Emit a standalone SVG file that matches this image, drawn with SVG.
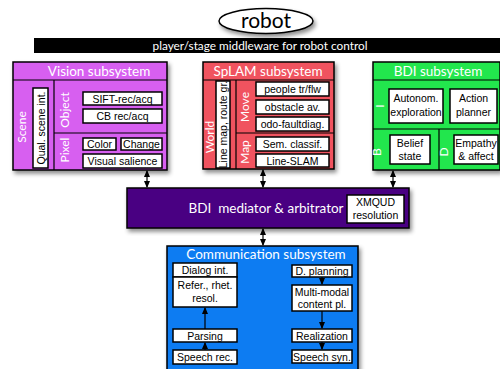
<svg xmlns="http://www.w3.org/2000/svg" width="500" height="369" viewBox="0 0 500 369">
<defs>
<filter id="sh" x="-10%" y="-10%" width="130%" height="130%">
<feDropShadow dx="2" dy="3" stdDeviation="2" flood-color="#000" flood-opacity="0.45"/>
</filter>
<marker id="ah" viewBox="0 0 8 8" refX="7" refY="4" markerWidth="6" markerHeight="6" orient="auto-start-reverse">
<path d="M0,0.5 L8,4 L0,7.5 z" fill="#000"/>
</marker>
<style>
.hd{font-family:Lato,"Open Sans",sans-serif;fill:#fff;text-anchor:middle}
.lb{font-family:Lato,"Open Sans",sans-serif;fill:#fff;font-size:12px;text-anchor:middle}
.bx{fill:#fff;stroke:#000;stroke-width:1.5}
.tx{font-family:"Liberation Sans",Arial,sans-serif;font-size:10.5px;fill:#000;text-anchor:middle}
.ln{stroke:#000;stroke-width:1.2;fill:none}
.ar{stroke:#000;stroke-width:1.2;fill:none;marker-end:url(#ah)}
.dar{stroke:#000;stroke-width:1.2;fill:none;marker-end:url(#ah);marker-start:url(#ah)}
</style>
</defs>
<rect width="500" height="369" fill="#fff"/>

<g id="robot">
<ellipse cx="266" cy="21" rx="47" ry="12.5" fill="#fff" stroke="#000" stroke-width="1.5" filter="url(#sh)"/>
<text x="266" y="28" font-family="Lato,'Open Sans',sans-serif" font-size="21" text-anchor="middle" fill="#000">robot</text>
</g>

<g id="middleware">
<rect x="34" y="38" width="466" height="15" fill="#000"/>
<text x="260" y="49.5" font-family="Lato,'Open Sans',sans-serif" font-size="11.8" text-anchor="middle" fill="#fff">player/stage middleware for robot control</text>
</g>

<g id="vision">
<rect x="13" y="62" width="154" height="108" fill="#d75ff0" stroke="#000" stroke-width="1.5" filter="url(#sh)"/>
<path class="ln" d="M13,80 H167 M54,80 V170 M54,133 H167"/>
<text class="hd" x="99" y="76" font-size="13.5">Vision subsystem</text>
<text class="lb" transform="translate(26,127) rotate(-90)">Scene</text>
<rect class="bx" x="33" y="88" width="15" height="80"/>
<text class="tx" transform="translate(44.5,128) rotate(-90)">Qual. scene int.</text>
<text class="lb" transform="translate(69,110) rotate(-90)">Object</text>
<text class="lb" transform="translate(69,150) rotate(-90)">Pixel</text>
<rect class="bx" x="83" y="92" width="79" height="13"/>
<text class="tx" x="122.5" y="102.5">SIFT-rec/acq</text>
<rect class="bx" x="83" y="109" width="79" height="14"/>
<text class="tx" x="122.5" y="120">CB rec/acq</text>
<rect class="bx" x="83" y="138" width="33" height="12"/>
<text class="tx" x="99.5" y="148">Color</text>
<rect class="bx" x="121" y="138" width="41" height="12"/>
<text class="tx" x="141.5" y="148">Change</text>
<rect class="bx" x="83" y="154" width="79" height="14"/>
<text class="tx" x="122.5" y="165">Visual salience</text>
</g>

<g id="splam">
<rect x="203" y="62" width="131" height="107" fill="#f0525e" stroke="#000" stroke-width="1.5" filter="url(#sh)"/>
<path class="ln" d="M203,80 H334 M236,80 V169 M236,133 H334"/>
<text class="hd" x="268" y="76" font-size="13.5">SpLAM subsystem</text>
<text class="lb" transform="translate(214,137) rotate(-90)">World</text>
<rect class="bx" x="216" y="81" width="14" height="87"/>
<text class="tx" transform="translate(227,124.5) rotate(-90)">Line map, route gr.</text>
<text class="lb" transform="translate(249,107) rotate(-90)">Move</text>
<text class="lb" transform="translate(249,152) rotate(-90)">Map</text>
<rect class="bx" x="256" y="82" width="73" height="14"/>
<text class="tx" x="292.5" y="93">people tr/flw</text>
<rect class="bx" x="256" y="100" width="73" height="14"/>
<text class="tx" x="292.5" y="111">obstacle av.</text>
<rect class="bx" x="256" y="117" width="73" height="14"/>
<text class="tx" x="292.5" y="128">odo-faultdiag.</text>
<rect class="bx" x="256" y="137" width="73" height="14"/>
<text class="tx" x="292.5" y="148">Sem. classif.</text>
<rect class="bx" x="256" y="154" width="73" height="13"/>
<text class="tx" x="292.5" y="164.5">Line-SLAM</text>
</g>

<g id="bdi">
<rect x="373" y="62" width="127" height="108" fill="#22e64e" stroke="#000" stroke-width="1.5" filter="url(#sh)"/>
<path class="ln" d="M373,80 H500 M373,129 H500 M439,129 V170"/>
<text class="hd" x="438" y="76" font-size="13.5">BDI subsystem</text>
<text class="lb" transform="translate(384,106) rotate(-90)">I</text>
<text class="lb" transform="translate(381,152) rotate(-90)">B</text>
<text class="lb" transform="translate(448,152) rotate(-90)">D</text>
<rect class="bx" x="389" y="89" width="54" height="34"/>
<text class="tx" x="416" y="102">Autonom.</text>
<text class="tx" x="416" y="116">exploration</text>
<rect class="bx" x="450" y="89" width="47" height="34"/>
<text class="tx" x="473.5" y="102">Action</text>
<text class="tx" x="473.5" y="116">planner</text>
<rect class="bx" x="390" y="135" width="40" height="29"/>
<text class="tx" x="410" y="147">Belief</text>
<text class="tx" x="410" y="160">state</text>
<rect class="bx" x="454" y="135" width="44" height="29"/>
<text class="tx" x="476" y="147">Empathy</text>
<text class="tx" x="476" y="160">&amp; affect</text>
</g>

<g id="mediator">
<rect x="127" y="188" width="282" height="40" fill="#4a0082" stroke="#000" stroke-width="1.5" filter="url(#sh)"/>
<text class="hd" x="266" y="213" font-size="13.5">BDI&#160; mediator &amp; arbitrator</text>
<rect class="bx" x="347" y="195" width="57" height="28"/>
<text class="tx" x="375.5" y="206">XMQUD</text>
<text class="tx" x="375.5" y="219">resolution</text>
</g>

<g id="communication">
<rect x="167" y="246" width="191" height="126" fill="#0a7cf2" stroke="#000" stroke-width="1.5" filter="url(#sh)"/>
<text class="hd" x="266" y="259" font-size="13.5">Communication subsystem</text>
<rect class="bx" x="173" y="263" width="64" height="14"/>
<text class="tx" x="205" y="274">Dialog int.</text>
<rect class="bx" x="173" y="277" width="64" height="30"/>
<text class="tx" x="205" y="289">Refer., rhet.</text>
<text class="tx" x="205" y="302">resol.</text>
<rect class="bx" x="173" y="329" width="64" height="13"/>
<text class="tx" x="205" y="339.5">Parsing</text>
<rect class="bx" x="173" y="350" width="64" height="14"/>
<text class="tx" x="205" y="361">Speech rec.</text>
<rect class="bx" x="292" y="265" width="60" height="12"/>
<text class="tx" x="322" y="275">D. planning</text>
<rect class="bx" x="292" y="285" width="60" height="26"/>
<text class="tx" x="322" y="296">Multi-modal</text>
<text class="tx" x="322" y="308">content pl.</text>
<rect class="bx" x="292" y="329" width="60" height="13"/>
<text class="tx" x="322" y="339.5">Realization</text>
<rect class="bx" x="292" y="350" width="60" height="13"/>
<text class="tx" x="322" y="360.5">Speech syn.</text>
</g>

<g id="connectors">
<line class="dar" x1="147" y1="171" x2="147" y2="187"/>
<line class="dar" x1="263" y1="170" x2="263" y2="187"/>
<line class="dar" x1="393" y1="171" x2="393" y2="187"/>
<line class="dar" x1="263" y1="229" x2="263" y2="245"/>
<line class="ar" x1="205" y1="350" x2="205" y2="343"/>
<line class="ar" x1="205" y1="329" x2="205" y2="308"/>
<line class="ar" x1="322" y1="277" x2="322" y2="284"/>
<line class="ar" x1="322" y1="311" x2="322" y2="328"/>
<line class="ar" x1="322" y1="342" x2="322" y2="349"/>
</g>
</svg>
